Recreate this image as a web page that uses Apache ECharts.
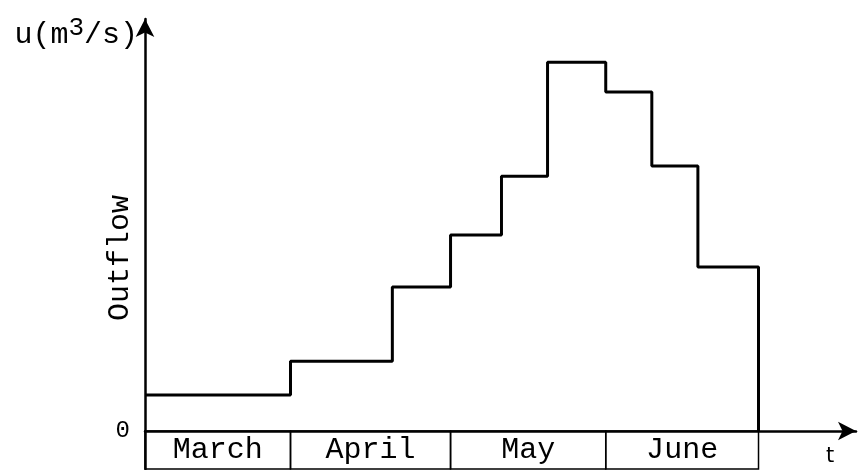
<!DOCTYPE html>
<html><head><meta charset="utf-8">
<script src="https://cdn.jsdelivr.net/npm/echarts@6/dist/echarts.min.js"></script>
<style>html,body{margin:0;padding:0;background:#fff}#c{width:858px;height:470px}</style>
</head><body><div id="c"></div>
<script>
// time axis (arbitrary units), step break points
const stepStarts = [0, 30, 51, 63, 73.5, 83, 95, 104.5, 114];
const stepEnd = 126.5;
const outflow = [8.7, 16.9, 34.9, 47.5, 61.7, 89.3, 82.1, 64.2, 39.7];
const months = ['March', 'April', 'May', 'June'];
const monthBounds = [0, 30, 63, 95, 126.5];
const yTickLabels = [0];
const boxBottom = -9.2;
const FONT = '"Liberation Mono", "DejaVu Sans Mono", monospace';

const lineData = stepStarts.map((x, i) => [x, outflow[i]]);
lineData.push([stepEnd, outflow[outflow.length - 1]]);
lineData.push([stepEnd, 0]);

const boxes = months.map((m, i) => [
  {name: m, xAxis: monthBounds[i], yAxis: boxBottom},
  {xAxis: monthBounds[i + 1], yAxis: 0}
]);

const chart = echarts.init(document.getElementById('c'));
chart.setOption({
  animation: false,
  backgroundColor: '#fff',
  textStyle: {fontFamily: FONT, color: '#000'},
  grid: {left: 145, right: 2, top: 19, bottom: 1},
  xAxis: {
    type: 'value', min: 0, max: 146.6,
    axisLine: {onZero: true, lineStyle: {color: '#000', width: 2.5}, symbol: ['none', 'arrow'], symbolSize: [14, 18]},
    axisTick: {show: false}, axisLabel: {show: false}, splitLine: {show: false},
    name: 't', nameLocation: 'end', nameGap: -30,
    nameTextStyle: {color: '#000', fontFamily: '"DejaVu Sans", sans-serif', fontSize: 21, align: 'left', verticalAlign: 'top', padding: [15, 0, 0, 0]}
  },
  yAxis: {
    type: 'value', min: boxBottom, max: 99.8,
    axisLine: {lineStyle: {color: '#000', width: 2.5}, symbol: ['none', 'arrow'], symbolSize: [14, 18]},
    axisTick: {show: false}, splitLine: {show: false},
    axisLabel: {
      customValues: yTickLabels, margin: 15,
      formatter: v => '{z|' + v + '}',
      rich: {z: {fontFamily: FONT, fontSize: 24, color: '#000'}}
    },
    name: '{a|u(m}{b|3}{a|/s)}', nameLocation: 'end', nameGap: -36,
    nameTextStyle: {
      align: 'right', verticalAlign: 'bottom', padding: [0, 7, 0, 0],
      rich: {
        a: {fontFamily: FONT, fontSize: 30, color: '#000', lineHeight: 40},
        b: {fontFamily: FONT, fontSize: 26, color: '#000', lineHeight: 24, verticalAlign: 'top'}
      }
    }
  },
  graphic: [{
    type: 'text', x: 120, y: 258, rotation: Math.PI / 2,
    style: {text: 'Outflow', fill: '#000', font: '30px ' + FONT, align: 'center', verticalAlign: 'middle'}
  }],
  series: [{
    type: 'line', step: 'end', data: lineData, symbol: 'none',
    lineStyle: {color: '#000', width: 3},
    markArea: {
      silent: true,
      itemStyle: {color: 'rgba(0,0,0,0)', borderColor: '#000', borderWidth: 1.5},
      label: {show: true, position: 'inside', color: '#000', fontFamily: FONT, fontSize: 30},
      data: boxes
    }
  }]
});
</script></body></html>
